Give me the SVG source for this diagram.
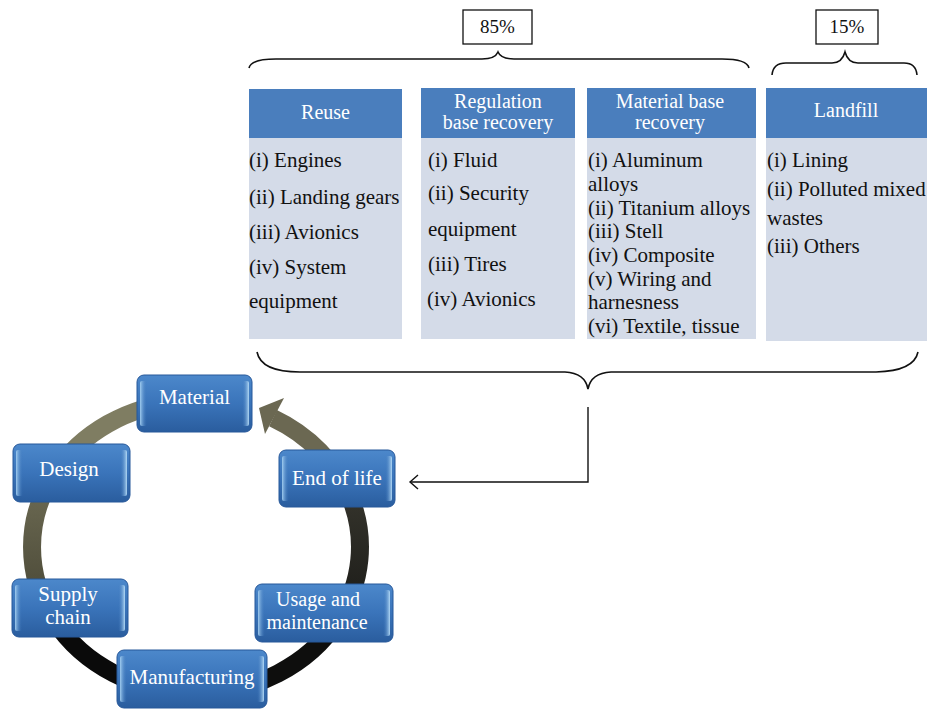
<svg xmlns="http://www.w3.org/2000/svg" width="927" height="709" viewBox="0 0 927 709">
<defs>
<linearGradient id="nodeFill" x1="0" y1="0" x2="0" y2="1">
<stop offset="0" stop-color="#4c88cb"/>
<stop offset="0.5" stop-color="#3a74ba"/>
<stop offset="1" stop-color="#2a5d9e"/>
</linearGradient>
<linearGradient id="bevL" x1="0" y1="0" x2="1" y2="0">
<stop offset="0" stop-color="#a6d1f2" stop-opacity="0.95"/>
<stop offset="1" stop-color="#3a74ba" stop-opacity="0"/>
</linearGradient>
<linearGradient id="bevR" x1="0" y1="0" x2="1" y2="0">
<stop offset="0" stop-color="#3a74ba" stop-opacity="0"/>
<stop offset="1" stop-color="#b8def8" stop-opacity="0.95"/>
</linearGradient>
<linearGradient id="ringLeft" gradientUnits="userSpaceOnUse" x1="0" y1="474" x2="0" y2="620">
<stop offset="0" stop-color="#6f6d55"/>
<stop offset="1" stop-color="#464433"/>
</linearGradient>
<linearGradient id="ringRight" gradientUnits="userSpaceOnUse" x1="0" y1="497" x2="0" y2="620">
<stop offset="0" stop-color="#34332b"/>
<stop offset="1" stop-color="#1a1a17"/>
</linearGradient>
</defs>
<style>
.hdr{fill:#4a7ebd}
.body{fill:#d4dbe8}
.ht{font-family:"Liberation Serif",serif;font-size:20px;fill:#ffffff;text-anchor:middle}
.lt{font-family:"Liberation Serif",serif;font-size:21px;fill:#111111}
.pt{font-family:"Liberation Serif",serif;font-size:19px;fill:#111111;text-anchor:middle}
.pbox{fill:#ffffff;stroke:#111111;stroke-width:1.3}
.brace{fill:none;stroke:#111111;stroke-width:1.6}
.conn{fill:none;stroke:#111111;stroke-width:1.4}
.ring{fill:none;stroke-width:18}
.nbase{fill:url(#nodeFill);stroke:#27589a;stroke-width:1}
.nbl{fill:url(#bevL)}
.nbr{fill:url(#bevR)}
.nt{font-family:"Liberation Serif",serif;font-size:21px;fill:#ffffff;text-anchor:middle}
.nt2{font-family:"Liberation Serif",serif;font-size:20px;fill:#ffffff;text-anchor:middle}
</style>

<!-- percentage labels and braces -->
<g id="pct85">
<rect class="pbox" x="463" y="10" width="69" height="34"/>
<text class="pt" x="497.5" y="33">85%</text>
</g>
<g id="pct15">
<rect class="pbox" x="816" y="10" width="62" height="34"/>
<text class="pt" x="847" y="33">15%</text>
</g>
<g id="braces">
<path class="brace" d="M249,68 Q251,59 276,59 L482,59 Q495,59 498,52 Q501,59 514,59 L722,59 Q747,59 749,68"/>
<path class="brace" d="M772,75 Q773,63 786,63 L832,63 Q842,63 845,52 Q848,63 858,63 L904,63 Q916,63 917,75"/>
<path class="brace" d="M257,352 Q261,372 300,372 L565,372 Q585,373 588,389 Q591,373 611,372 L876,372 Q914,371 918,352"/>
</g>

<!-- categories -->
<g id="reuse">
<rect class="hdr" x="249" y="89" width="153" height="49"/>
<rect class="body" x="249" y="138" width="153" height="201"/>
<text class="ht" x="325.5" y="119">Reuse</text>
<text class="lt" x="249" y="167">(i) Engines</text>
<text class="lt" x="249" y="204">(ii) Landing gears</text>
<text class="lt" x="249" y="239">(iii) Avionics</text>
<text class="lt" x="249" y="274">(iv) System</text>
<text class="lt" x="249" y="308">equipment</text>
</g>
<g id="regulation">
<rect class="hdr" x="421" y="88" width="154" height="50"/>
<rect class="body" x="421" y="138" width="154" height="201"/>
<text class="ht" x="498" y="108">Regulation</text>
<text class="ht" x="498" y="129">base recovery</text>
<text class="lt" x="428" y="167">(i) Fluid</text>
<text class="lt" x="428" y="200">(ii) Security</text>
<text class="lt" x="428" y="236">equipment</text>
<text class="lt" x="428" y="271">(iii) Tires</text>
<text class="lt" x="427" y="306">(iv) Avionics</text>
</g>
<g id="material-base">
<rect class="hdr" x="587" y="88" width="169" height="50"/>
<rect class="body" x="587" y="138" width="169" height="201"/>
<text class="ht" x="670" y="108">Material base</text>
<text class="ht" x="670" y="129">recovery</text>
<text class="lt" x="588" y="167">(i) Aluminum</text>
<text class="lt" x="588" y="191">alloys</text>
<text class="lt" x="588" y="215">(ii) Titanium alloys</text>
<text class="lt" x="588" y="238">(iii) Stell</text>
<text class="lt" x="588" y="262">(iv) Composite</text>
<text class="lt" x="588" y="286">(v) Wiring and</text>
<text class="lt" x="588" y="309">harnesness</text>
<text class="lt" x="588" y="333">(vi) Textile, tissue</text>
</g>
<g id="landfill">
<rect class="hdr" x="766" y="88" width="161" height="50"/>
<rect class="body" x="766" y="138" width="161" height="203"/>
<text class="ht" x="846" y="117">Landfill</text>
<text class="lt" x="767" y="167">(i) Lining</text>
<text class="lt" x="767" y="196">(ii) Polluted mixed</text>
<text class="lt" x="767" y="225">wastes</text>
<text class="lt" x="767" y="253">(iii) Others</text>
</g>

<!-- connectors -->
<g id="connectors">
<g id="cycle-ring">
<path class="ring" stroke="#6b6852" d="M273,418.1 A164,146 0 0 1 350.1,497.1"/>
<path class="ring" stroke="url(#ringRight)" d="M350.1,497.1 A164,146 0 0 1 338,620"/>
<path class="ring" stroke="#0e0e0d" d="M338,620 A164,146 0 0 1 196,693"/>
<path class="ring" stroke="#0a0a0a" d="M196,693 A164,146 0 0 1 54,620"/>
<path class="ring" stroke="url(#ringLeft)" d="M54,620 A164,146 0 0 1 54,474"/>
<path class="ring" stroke="#7f7d62" d="M54,474 A164,146 0 0 1 181.7,401.6"/>
<polygon fill="#6b6852" points="259,408 284,398 265,434"/>
</g>
<path class="conn" d="M588,407 L588,482 L410,482"/>
<polyline class="conn" points="418,475 410,482 418,489"/>
</g>

<!-- cycle nodes -->
<g id="node-material">
<rect class="nbase" x="137" y="375" width="115" height="57" rx="7"/>
<rect class="nbl" x="140" y="381" width="7" height="45" rx="2"/>
<rect class="nbr" x="242" y="381" width="7" height="45" rx="2"/>
<text class="nt" x="194.5" y="404">Material</text>
</g>
<g id="node-design">
<rect class="nbase" x="13" y="444" width="117" height="58" rx="7"/>
<rect class="nbl" x="16" y="450" width="7" height="46" rx="2"/>
<rect class="nbr" x="120" y="450" width="7" height="46" rx="2"/>
<text class="nt" x="69" y="476">Design</text>
</g>
<g id="node-endoflife">
<rect class="nbase" x="279" y="450" width="116" height="57" rx="7"/>
<rect class="nbl" x="282" y="456" width="7" height="45" rx="2"/>
<rect class="nbr" x="385" y="456" width="7" height="45" rx="2"/>
<text class="nt" x="337" y="485">End of life</text>
</g>
<g id="node-supply">
<rect class="nbase" x="12" y="579" width="116" height="58" rx="7"/>
<rect class="nbl" x="15" y="585" width="7" height="46" rx="2"/>
<rect class="nbr" x="118" y="585" width="7" height="46" rx="2"/>
<text class="nt" x="68" y="601">Supply</text>
<text class="nt" x="68" y="624">chain</text>
</g>
<g id="node-usage">
<rect class="nbase" x="255" y="584" width="138" height="58" rx="7"/>
<rect class="nbl" x="258" y="590" width="7" height="46" rx="2"/>
<rect class="nbr" x="383" y="590" width="7" height="46" rx="2"/>
<text class="nt2" x="318" y="606">Usage and</text>
<text class="nt2" x="317" y="629">maintenance</text>
</g>
<g id="node-manufacturing">
<rect class="nbase" x="117" y="650" width="150" height="58" rx="7"/>
<rect class="nbl" x="120" y="656" width="7" height="46" rx="2"/>
<rect class="nbr" x="257" y="656" width="7" height="46" rx="2"/>
<text class="nt" x="192" y="684">Manufacturing</text>
</g>
</svg>
